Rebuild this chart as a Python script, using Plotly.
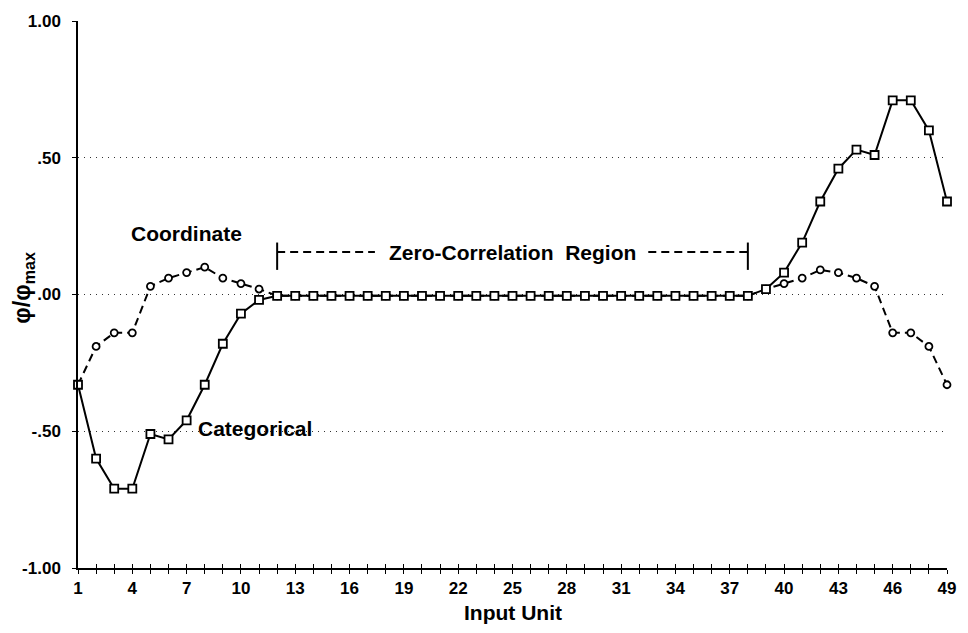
import plotly.graph_objects as go

# Input units along the horizontal axis
units = list(range(1, 50))

# phi / phi_max for the categorical representation (squares, solid line)
categorical = [
    -0.33, -0.60, -0.71, -0.71, -0.51, -0.53, -0.46, -0.33, -0.18, -0.07,
    -0.02, -0.005, -0.005, -0.005, -0.005, -0.005, -0.005, -0.005, -0.005, -0.005,
    -0.005, -0.005, -0.005, -0.005, -0.005, -0.005, -0.005, -0.005, -0.005, -0.005,
    -0.005, -0.005, -0.005, -0.005, -0.005, -0.005, -0.005, -0.005, 0.02, 0.08,
    0.19, 0.34, 0.46, 0.53, 0.51, 0.71, 0.71, 0.60, 0.34,
]

# phi / phi_max for the coordinate representation (circles, dashed line)
coordinate = [
    -0.33, -0.19, -0.14, -0.14, 0.03, 0.06, 0.08, 0.10, 0.06, 0.04,
    0.02, -0.005, -0.005, -0.005, -0.005, -0.005, -0.005, -0.005, -0.005, -0.005,
    -0.005, -0.005, -0.005, -0.005, -0.005, -0.005, -0.005, -0.005, -0.005, -0.005,
    -0.005, -0.005, -0.005, -0.005, -0.005, -0.005, -0.005, -0.005, 0.02, 0.04,
    0.06, 0.09, 0.08, 0.06, 0.03, -0.14, -0.14, -0.19, -0.33,
]

# Axis ticks
x_tick_vals = list(range(1, 50, 3))
x_tick_text = [str(v) for v in x_tick_vals]
y_tick_vals = [1.0, 0.5, 0.0, -0.5, -1.0]
y_tick_text = ["1.00", ".50", ".00", "-.50", "-1.00"]

# Span of the flat region marked by the bracket
zero_start, zero_end = 12, 38

FONT = "Liberation Sans, Arial, sans-serif"

fig = go.Figure()

fig.add_trace(go.Scatter(
    x=units, y=coordinate, mode="lines+markers", cliponaxis=False,
    line=dict(color="black", width=2, dash="8px,5px"),
    marker=dict(symbol="circle", size=7, color="white",
                line=dict(color="black", width=1.8)),
    showlegend=False, hoverinfo="skip",
))
fig.add_trace(go.Scatter(
    x=units, y=categorical, mode="lines+markers", cliponaxis=False,
    line=dict(color="black", width=2),
    marker=dict(symbol="square", size=8, color="white",
                line=dict(color="black", width=1.8)),
    showlegend=False, hoverinfo="skip",
))
# carrier trace for the overlay axis that draws the upper half of the crossing ticks
fig.add_trace(go.Scatter(
    x=units, y=categorical, mode="none", xaxis="x2",
    showlegend=False, hoverinfo="skip",
))

bold = dict(family=FONT, size=21, color="black", weight="bold")

annotations = [
    dict(x=7.0, y=0.223, xref="x", yref="y", text="Coordinate",
         showarrow=False, font=bold, xanchor="center", yanchor="middle"),
    dict(x=7.5, y=-0.49, xref="x", yref="y", text="Categorical",
         showarrow=False, font=bold, xanchor="left", yanchor="middle"),
    dict(x=(zero_start + zero_end) / 2, y=0.153, xref="x", yref="y",
         text="Zero-Correlation  Region", showarrow=False, font=bold,
         xanchor="center", yanchor="middle"),
    dict(x=-0.063, y=0.513, xref="paper", yref="paper",
         text="φ/φ<sub>max</sub>", textangle=-90, showarrow=False,
         font=dict(family=FONT, size=23, color="black", weight="bold"),
         xanchor="center", yanchor="middle"),
    dict(x=0.5, y=-0.082, xref="paper", yref="paper", text="Input Unit",
         showarrow=False, font=bold, xanchor="center", yanchor="middle"),
]

bar_lo, bar_hi, dash_y = 0.09, 0.19, 0.155
line_style = dict(color="black", width=2)
shapes = [
    dict(type="line", xref="x", yref="y", x0=zero_start, x1=zero_start,
         y0=bar_lo, y1=bar_hi, line=line_style),
    dict(type="line", xref="x", yref="y", x0=zero_start, x1=17.4,
         y0=dash_y, y1=dash_y, line=dict(color="black", width=2, dash="8px,5px")),
    dict(type="line", xref="x", yref="y", x0=32.5, x1=zero_end,
         y0=dash_y, y1=dash_y, line=dict(color="black", width=2, dash="8px,5px")),
    dict(type="line", xref="x", yref="y", x0=zero_end, x1=zero_end,
         y0=bar_lo, y1=bar_hi, line=line_style),
]

tick_font = dict(family=FONT, size=17, color="black", weight="bold")

fig.update_layout(
    width=968, height=633,
    margin=dict(l=78, r=18, t=20, b=65),
    paper_bgcolor="white", plot_bgcolor="white",
    annotations=annotations, shapes=shapes,
    xaxis=dict(
        range=[1, 49], tickvals=x_tick_vals, ticktext=x_tick_text,
        tickfont=tick_font, ticks="outside", ticklen=4, tickwidth=1.2,
        tickcolor="black", showgrid=False, zeroline=False,
        showline=True, linecolor="black", linewidth=1.5,
        minor=dict(dtick=1, tick0=1, ticks="outside", ticklen=4,
                   tickwidth=1.2, tickcolor="black", showgrid=False),
        anchor="y", fixedrange=True,
    ),
    xaxis2=dict(
        range=[1, 49], overlaying="x", anchor="y", side="bottom",
        dtick=1, tick0=1, ticks="inside", ticklen=4, tickwidth=1.2,
        tickcolor="black", showticklabels=False, showgrid=False,
        zeroline=False, showline=False, fixedrange=True,
    ),
    yaxis=dict(
        range=[-1, 1], tickvals=y_tick_vals, ticktext=y_tick_text,
        tickfont=tick_font, ticks="outside", ticklen=4, tickwidth=1.2,
        tickcolor="black", ticklabelstandoff=8,
        showgrid=True, gridcolor="#333", gridwidth=1, griddash="1px,5px",
        zeroline=False, showline=True, linecolor="black", linewidth=1.5,
        fixedrange=True,
    ),
)

fig.write_html("out.html")
